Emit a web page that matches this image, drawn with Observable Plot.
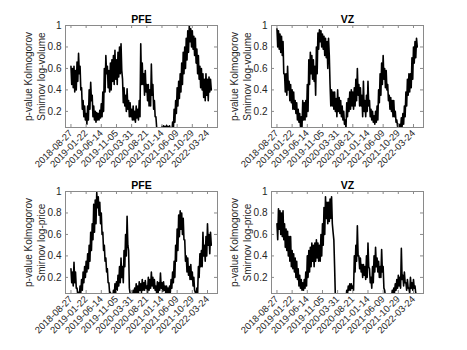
<!DOCTYPE html>
<html>
<head>
<meta charset="utf-8">
<script src="https://cdn.jsdelivr.net/npm/d3@7"></script>
<script src="https://cdn.jsdelivr.net/npm/@observablehq/plot@0.6"></script>
<style>
  html, body { margin: 0; padding: 0; background: #fff; }
  #root { position: relative; width: 467px; height: 350px; overflow: hidden; background: #fff; }
  #root > div { position: absolute; }
</style>
</head>
<body>
<div id="root"></div>
<script>
// x axis: observation index (trading days); ticks every 100 observations
const STEP = 10;
const xTickPos = [0, 100, 200, 300, 400, 500, 600, 700, 800, 900];
const xTickLabels = ["2018-08-27","2019-01-22","2019-06-14","2019-11-05","2020-03-31","2020-08-21","2021-01-14","2021-06-09","2021-10-29","2022-03-24"];
const yTicks = [0.2, 0.4, 0.6, 0.8, 1];
const titles = ["PFE", "VZ", "PFE", "VZ"];
const yLabels = ["p-value Kolmogorov\nSmirnov log-volume", "p-value Kolmogorov\nSmirnov log-volume",
                 "p-value Kolmogorov\nSmirnov log-price", "p-value Kolmogorov\nSmirnov log-price"];

const pfeVolumeLo = [0.45,0.42,0.38,0.40,0.48,0.55,0.40,0.22,0.15,0.12,
  0.08,0.12,0.22,0.30,0.15,0.12,0.10,0.12,0.12,0.14,
  0.15,0.20,0.38,0.55,0.42,0.38,0.40,0.48,0.45,0.50,
  0.45,0.52,0.55,0.58,0.28,0.25,0.20,0.22,0.15,0.15,
  0.12,0.12,0.10,0.14,0.12,0.15,0.45,0.45,0.35,0.38,
  0.30,0.25,0.25,0.35,0.22,0.15,0.05,0.00,0.00,0.00,
  0.02,0.03,0.02,0.03,0.02,0.03,0.00,0.02,0.10,0.18,
  0.25,0.32,0.38,0.45,0.55,0.60,0.68,0.75,0.85,0.80,
  0.78,0.72,0.65,0.55,0.50,0.42,0.40,0.33,0.30,0.35,
  0.30,0.38,0.40];
const pfeVolumeHi = [0.62,0.60,0.62,0.58,0.66,0.74,0.62,0.42,0.30,0.25,
  0.18,0.25,0.40,0.47,0.35,0.25,0.20,0.19,0.18,0.21,
  0.27,0.38,0.60,0.72,0.62,0.58,0.65,0.68,0.72,0.77,
  0.68,0.75,0.80,0.83,0.50,0.42,0.35,0.41,0.30,0.28,
  0.22,0.25,0.20,0.25,0.22,0.30,0.83,0.65,0.55,0.58,
  0.45,0.45,0.40,0.64,0.45,0.30,0.15,0.04,0.02,0.03,
  0.06,0.065,0.06,0.07,0.06,0.065,0.04,0.10,0.22,0.30,
  0.42,0.48,0.55,0.65,0.75,0.80,0.88,0.95,1.00,0.97,
  0.95,0.90,0.88,0.78,0.72,0.62,0.60,0.55,0.50,0.55,
  0.50,0.52,0.50];
const vzVolumeLo = [0.80,0.78,0.75,0.72,0.55,0.38,0.35,0.40,0.30,0.28,
  0.22,0.22,0.18,0.12,0.10,0.06,0.05,0.12,0.12,0.15,
  0.20,0.45,0.55,0.50,0.48,0.35,0.55,0.78,0.85,0.80,
  0.78,0.72,0.70,0.60,0.72,0.25,0.25,0.22,0.20,0.15,
  0.20,0.18,0.15,0.12,0.08,0.04,0.15,0.20,0.22,0.25,
  0.22,0.25,0.30,0.35,0.25,0.25,0.15,0.20,0.15,0.20,
  0.25,0.15,0.12,0.10,0.08,0.10,0.12,0.28,0.35,0.45,
  0.50,0.42,0.40,0.30,0.22,0.20,0.15,0.15,0.10,0.06,
  0.03,0.03,0.06,0.08,0.15,0.25,0.35,0.38,0.42,0.50,
  0.65,0.70,0.80];
const vzVolumeHi = [0.97,0.95,0.92,0.90,0.85,0.55,0.55,0.62,0.48,0.45,
  0.40,0.38,0.30,0.28,0.22,0.18,0.15,0.30,0.28,0.30,
  0.45,0.68,0.75,0.72,0.68,0.62,0.80,0.93,0.96,0.95,
  0.92,0.90,0.88,0.85,0.88,0.45,0.40,0.38,0.38,0.32,
  0.40,0.33,0.30,0.25,0.20,0.12,0.28,0.32,0.38,0.40,
  0.38,0.42,0.50,0.60,0.45,0.42,0.35,0.48,0.30,0.35,
  0.48,0.30,0.22,0.20,0.16,0.20,0.25,0.40,0.55,0.65,
  0.72,0.60,0.58,0.45,0.35,0.33,0.30,0.30,0.20,0.12,
  0.08,0.08,0.14,0.18,0.25,0.38,0.50,0.55,0.55,0.70,
  0.80,0.85,0.88];
const pfePriceLo = [0.15,0.12,0.15,0.10,0.04,0.02,0.06,0.08,0.15,0.20,
  0.25,0.28,0.35,0.45,0.55,0.62,0.70,0.85,0.78,0.70,
  0.60,0.45,0.35,0.25,0.15,0.05,0.00,0.00,0.02,0.06,
  0.08,0.12,0.15,0.20,0.15,0.30,0.40,0.50,0.10,0.00,
  0.00,0.03,0.03,0.05,0.05,0.08,0.06,0.08,0.08,0.10,
  0.06,0.08,0.10,0.12,0.10,0.08,0.05,0.06,0.08,0.10,
  0.07,0.08,0.05,0.06,0.04,0.06,0.10,0.15,0.20,0.35,
  0.45,0.58,0.65,0.60,0.55,0.35,0.25,0.22,0.18,0.18,
  0.12,0.08,0.03,0.04,0.20,0.30,0.30,0.40,0.35,0.40,
  0.50,0.42,0.50];
const pfePriceHi = [0.28,0.25,0.34,0.25,0.10,0.06,0.12,0.18,0.25,0.30,
  0.35,0.42,0.50,0.62,0.70,0.88,0.92,0.99,0.95,0.90,
  0.80,0.62,0.50,0.38,0.28,0.15,0.06,0.03,0.08,0.14,
  0.16,0.22,0.30,0.38,0.30,0.45,0.60,0.77,0.45,0.05,
  0.04,0.08,0.10,0.14,0.12,0.16,0.14,0.18,0.15,0.17,
  0.12,0.20,0.18,0.25,0.20,0.18,0.12,0.16,0.15,0.24,
  0.15,0.16,0.12,0.12,0.10,0.12,0.18,0.25,0.35,0.50,
  0.65,0.78,0.82,0.80,0.75,0.55,0.40,0.38,0.30,0.32,
  0.25,0.20,0.06,0.10,0.30,0.42,0.45,0.62,0.50,0.58,
  0.70,0.60,0.62];
const vzPriceLo = [0.55,0.65,0.60,0.58,0.55,0.48,0.45,0.40,0.35,0.30,
  0.28,0.25,0.20,0.18,0.12,0.10,0.08,0.08,0.10,0.12,
  0.20,0.25,0.30,0.35,0.30,0.35,0.38,0.35,0.35,0.40,
  0.50,0.60,0.75,0.70,0.72,0.75,0.70,0.55,0.02,0.00,
  0.00,0.00,0.00,0.00,0.00,0.00,0.04,0.08,0.08,0.10,
  0.08,0.25,0.35,0.40,0.28,0.25,0.20,0.22,0.18,0.20,
  0.30,0.15,0.10,0.15,0.25,0.30,0.25,0.20,0.20,0.25,
  0.10,0.02,0.00,0.00,0.00,0.00,0.04,0.06,0.08,0.10,
  0.12,0.10,0.18,0.12,0.15,0.08,0.10,0.05,0.10,0.08,
  0.10,0.05,0.00];
const vzPriceHi = [0.70,0.84,0.82,0.80,0.82,0.70,0.65,0.63,0.58,0.58,
  0.45,0.42,0.38,0.35,0.28,0.22,0.18,0.15,0.18,0.25,
  0.40,0.45,0.48,0.52,0.50,0.52,0.55,0.52,0.50,0.60,
  0.70,0.85,0.95,0.90,0.90,0.93,0.95,0.62,0.30,0.02,
  0.00,0.00,0.00,0.00,0.00,0.02,0.08,0.12,0.14,0.14,
  0.12,0.40,0.50,0.68,0.40,0.38,0.32,0.32,0.30,0.40,
  0.52,0.28,0.20,0.30,0.40,0.48,0.38,0.35,0.30,0.46,
  0.30,0.08,0.00,0.00,0.00,0.00,0.08,0.10,0.14,0.18,
  0.22,0.20,0.47,0.22,0.25,0.15,0.18,0.10,0.20,0.15,
  0.18,0.12,0.05];

const seriesList = [[pfeVolumeHi, pfeVolumeLo], [vzVolumeHi, vzVolumeLo], [pfePriceHi, pfePriceLo], [vzPriceHi, vzPriceLo]];

const xDomain = [-36, 966];
const yDomain = [0.05, 1];
const labelOf = new Map(xTickPos.map((p, i) => [p, xTickLabels[i]]));
const AX = "#262626";
const FRAME = "#8a8a8a";

const W = 152, H = 102, ML = 65, MT = 25, MR = 15, MB = 50;
const positions = [[0, 0], [206, 0], [0, 166], [206, 166]];

// each block contributes its high then its low observation
function toPoints(hi, lo) {
  const pts = [];
  hi.forEach((h, i) => {
    pts.push({x: i * STEP, y: h});
    pts.push({x: i * STEP + STEP / 2, y: lo[i]});
  });
  return pts;
}

function panel([hi, lo], title, ylabel) {
  return Plot.plot({
    width: ML + W + MR,
    height: MT + H + MB,
    marginLeft: ML, marginRight: MR, marginTop: MT, marginBottom: MB,
    style: {background: "none", overflow: "visible", fontFamily: "'Liberation Sans', Arial, Helvetica, sans-serif", fontSize: "10px", color: AX},
    x: {domain: xDomain},
    y: {domain: yDomain},
    marks: [
      Plot.lineY(toPoints(hi, lo), {x: "x", y: "y", stroke: "black", strokeWidth: 1.6, clip: true, strokeLinejoin: "round"}),
      Plot.frame({stroke: FRAME, strokeWidth: 1}),
      Plot.ruleX(xTickPos, {x: d => d, insetTop: H - 3, stroke: FRAME}),
      Plot.ruleX(xTickPos, {x: d => d, insetBottom: H - 3, stroke: FRAME}),
      Plot.ruleY(yTicks.slice(0, -1), {y: d => d, insetRight: W - 3, stroke: FRAME}),
      Plot.ruleY(yTicks.slice(0, -1), {y: d => d, insetLeft: W - 3, stroke: FRAME}),
      Plot.axisX({ticks: xTickPos, tickFormat: d => labelOf.get(d), tickRotate: -45, tickSize: 0, tickPadding: 4, label: null, fontSize: 9.5}),
      Plot.axisY({ticks: yTicks, tickFormat: d => String(d), tickSize: 0, tickPadding: 4, label: null, fontSize: 10}),
      Plot.text([ylabel], {frameAnchor: "left", dx: -31, rotate: -90, textAnchor: "middle", lineAnchor: "middle", text: d => d, fontSize: 10, fill: AX, lineHeight: 1.3}),
      Plot.text([title], {frameAnchor: "top", dy: -3, lineAnchor: "bottom", text: d => d, fontSize: 10.5, fontWeight: "bold", fill: "black"})
    ]
  });
}

const root = document.getElementById("root");
seriesList.forEach((s, k) => {
  const wrap = document.createElement("div");
  wrap.style.left = positions[k][0] + "px";
  wrap.style.top = positions[k][1] + "px";
  wrap.appendChild(panel(s, titles[k], yLabels[k]));
  root.appendChild(wrap);
});
</script>
</body>
</html>
